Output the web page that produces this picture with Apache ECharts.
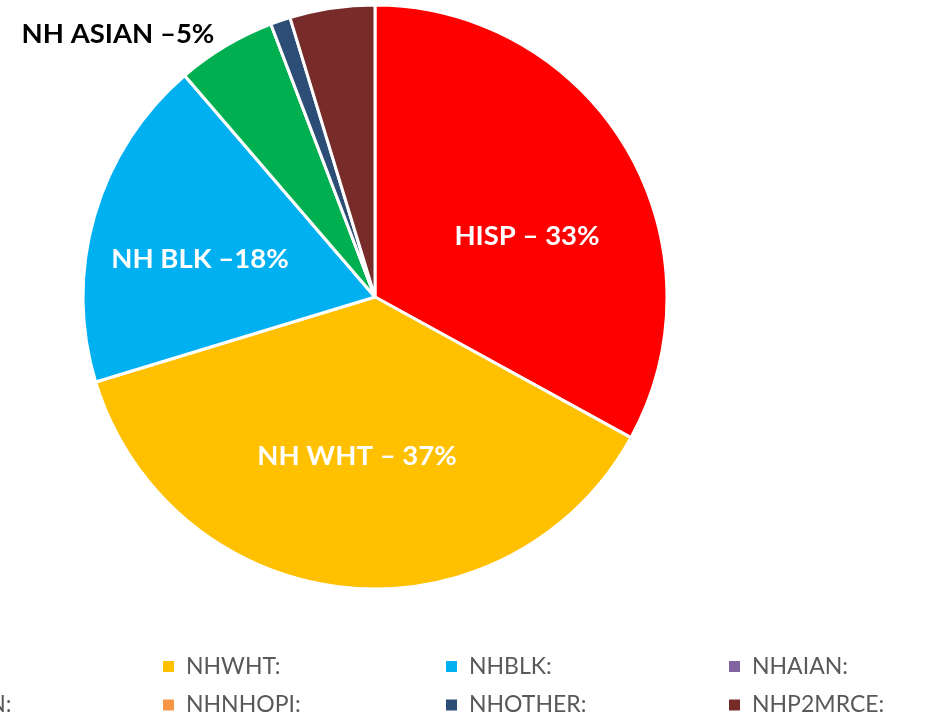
<!DOCTYPE html>
<html><head><meta charset="utf-8">
<script src="https://cdn.jsdelivr.net/npm/echarts@6/dist/echarts.min.js"></script>
<style>html,body{margin:0;padding:0;background:#fff}#c{width:928px;height:716px}</style>
</head><body><div id="c"></div>
<script>
const categories = ['HISP','NHWHT','NHBLK','NHAIAN','NHASIAN','NHNHOPI','NHOTHER','NHP2MRCE'];
const values = [33.0, 37.3, 18.4, 0, 5.5, 0, 1.1, 4.7];
const sliceLabels = ['HISP \u2013 33%', 'NH WHT \u2013 37%', 'NH BLK \u201318%', '', 'NH ASIAN \u20135%', '', '', ''];
const colors = ['#FF0000','#FFC000','#00B0F0','#8064A2','#00B050','#F79646','#2C4D75','#772C2A'];
const labelPos = {0:[527,236], 1:[357,456], 2:[200,259], 4:[118,34]};
const labelColors = {0:'#fff',1:'#fff',2:'#fff',4:'#000'};

const chart = echarts.init(document.getElementById('c'), null, {renderer:'canvas'});
const data = categories.map((c,i)=>({
  name: c, value: values[i],
  itemStyle:{color: colors[i]},
  label:{show: !!sliceLabels[i], color: labelColors[i] || '#fff'}
}));
const legends = categories.map((c,i)=>({
  left: -127 + (i % 4) * 283,
  top: 650 + Math.floor(i / 4) * 38.5,
  itemWidth:13, itemHeight:13, itemGap:8, icon:'rect',
  formatter: n => n + ':',
  textStyle:{fontFamily:'Lato, sans-serif', fontSize:23, color:'#595959', padding:[0,0,0,6]},
  data:[c]
}));
chart.setOption({
  animation:false,
  legend: legends,
  series:[{
    type:'pie', center:[375,297], radius:[0,292], startAngle:90, clockwise:true,
    avoidLabelOverlap:false,
    itemStyle:{borderColor:'#fff', borderWidth:3},
    label:{position:'inside', fontFamily:'Lato, sans-serif', fontWeight:'bold', fontSize:27.5,
      formatter: p => sliceLabels[p.dataIndex]},
    labelLine:{show:false},
    labelLayout: function(params){
      const p = labelPos[params.dataIndex];
      if(!p) return {};
      return {x:p[0], y:p[1], align:'center', verticalAlign:'middle'};
    },
    emphasis:{disabled:true},
    data: data
  }]
});
</script></body></html>
